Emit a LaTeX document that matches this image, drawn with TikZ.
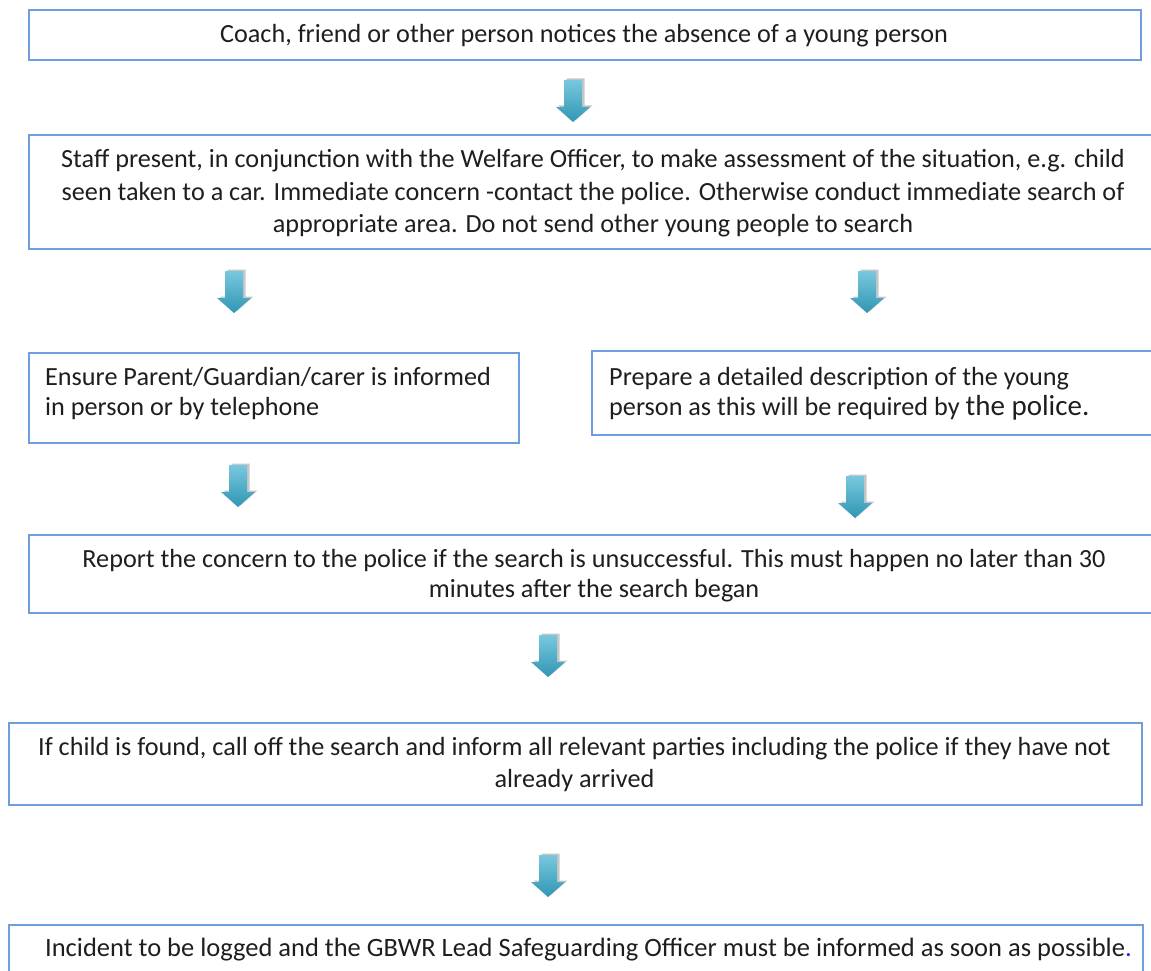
\documentclass[tikz,border=0pt]{standalone}
\usepackage{fontspec}
\setmainfont{Carlito}
\usetikzlibrary{shadings}
\definecolor{boxblue}{RGB}{112,157,222}
\definecolor{txt}{RGB}{30,30,30}
\definecolor{arrtop}{RGB}{120,200,222}
\definecolor{arrbot}{RGB}{48,150,180}
\definecolor{dotblue}{RGB}{40,40,220}
\tikzset{
  box/.style={draw=boxblue, line width=1.6pt, rectangle, inner sep=0pt, anchor=north west},
  lbl/.style={text=txt, font=\fontsize{26.2}{32.5}\selectfont, inner sep=0pt, align=center},
  lbll/.style={text=txt, font=\fontsize{26.2}{30}\selectfont, inner sep=0pt, align=left, anchor=west},
}
% block arrow: #1 name, centre x, tip y
\newcommand\blockarrow[3]{%
  \coordinate (#1) at (#2,#3);
  \fill[black, opacity=0.22] ([shift={(2.5,-1.5)}]#1) ++(-9,-42) -- ++(18,0) -- ++(0,27) -- ++(8,0) -- ++(-17,15) -- ++(-17,-15) -- ++(8,0) -- cycle;
  \shade[top color=arrtop, bottom color=arrbot] (#1) ++(-9,-42) -- ++(18,0) -- ++(0,27) -- ++(8,0) -- ++(-17,15) -- ++(-17,-15) -- ++(8,0) -- cycle;
}
\begin{document}
\begin{tikzpicture}[x=1pt,y=-1pt]
\useasboundingbox (0,0) rectangle (1151,971);
% boxes
\node[box, minimum width=1112pt, minimum height=50pt] (b1) at (28,9) {};
\node[box, minimum width=1128pt, minimum height=114pt] (b2) at (28,134) {};
\node[box, minimum width=490pt, minimum height=90pt] (b3l) at (28,352) {};
\node[box, minimum width=570pt, minimum height=84pt] (b3r) at (591,350) {};
\node[box, minimum width=1132pt, minimum height=78pt] (b4) at (28,534) {};
\node[box, minimum width=1133pt, minimum height=82pt] (b5) at (8,722) {};
\node[box, minimum width=1134pt, minimum height=70pt] (b6) at (8,924) {};
% texts
\node[lbl] (t1) at (584,36) {Coach, friend or other person notices the absence of a young person};
\node[lbl] (t2) at (593,193.5) {Staff present, in conjunction with the Welfare Officer, to make assessment of the situation, e.g. child\\seen taken to a car. Immediate concern -contact the police. Otherwise conduct immediate search of\\appropriate area. Do not send other young people to search};
\node[lbll] (t3l) at (45,394) {Ensure Parent/Guardian/carer is informed\\in person or by telephone};
\node[lbll] (t3r) at (609,394) {Prepare a detailed description of the young\\person as this will be required by {\fontsize{29}{30}\selectfont the police.}};
\node[lbl, font=\fontsize{26.2}{30}\selectfont] (t4) at (594,575.5) {Report the concern to the police if the search is unsuccessful. This must happen no later than 30\\minutes after the search began};
\node[lbl] (t5) at (574.5,764.5) {If child is found, call off the search and inform all relevant parties including the police if they have not\\already arrived};
\node[lbl, font=\fontsize{26.5}{32.5}\selectfont] (t6) at (588.5,949.5) {Incident to be logged and the GBWR Lead Safeguarding Officer must be informed as soon as possible\textcolor{dotblue}{.}};
% arrows
\blockarrow{a1}{573}{122}
\blockarrow{a2}{234}{313}
\blockarrow{a3}{867}{313}
\blockarrow{a4}{238}{507}
\blockarrow{a5}{855}{518}
\blockarrow{a6}{548}{677}
\blockarrow{a7}{548}{897}
\end{tikzpicture}
\end{document}
